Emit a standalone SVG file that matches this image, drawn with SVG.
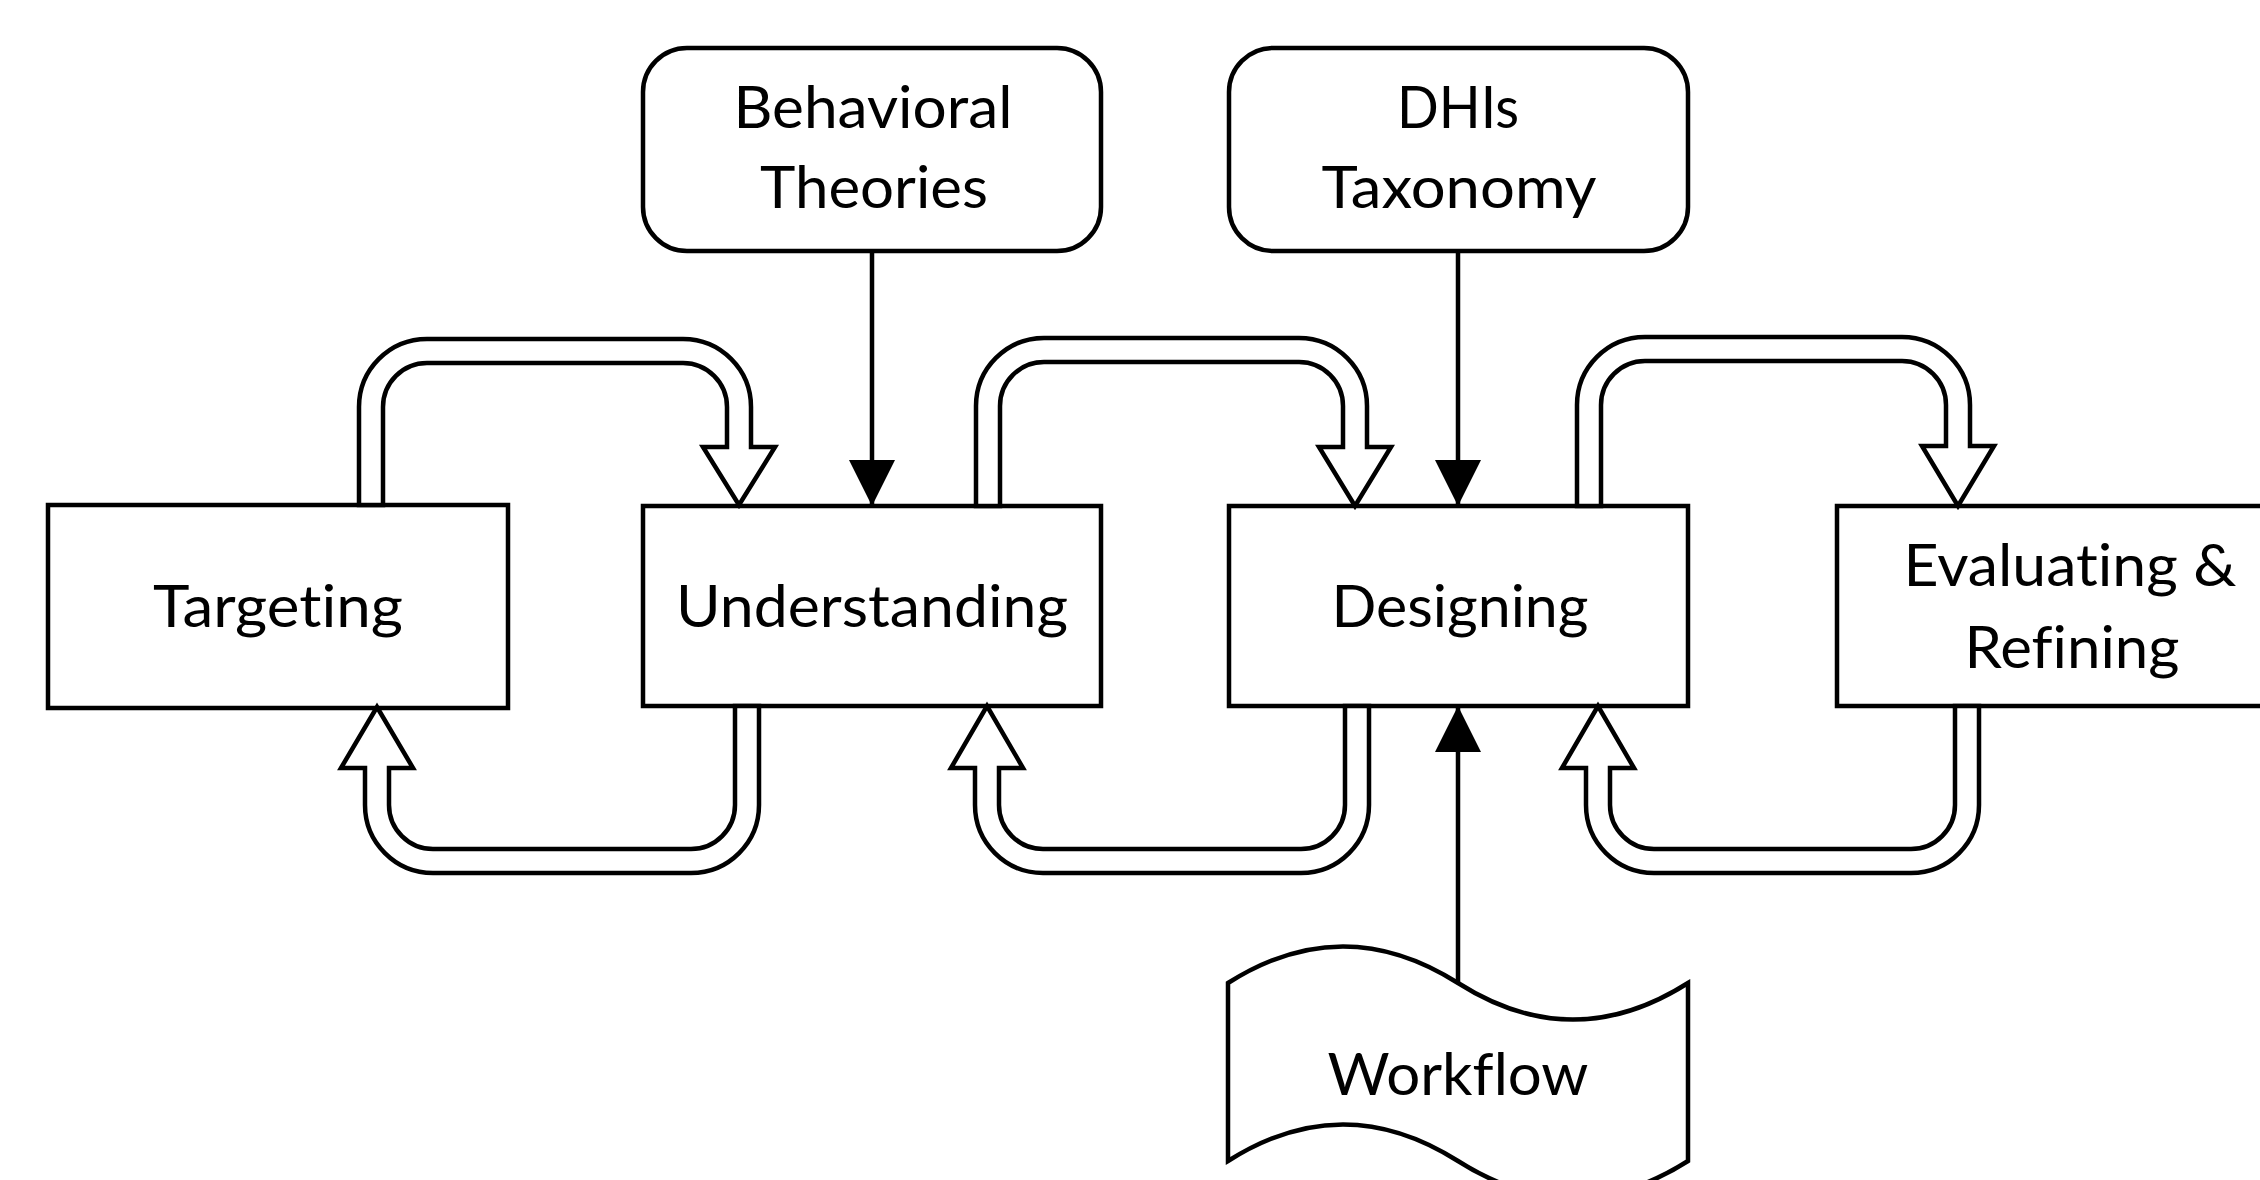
<svg xmlns="http://www.w3.org/2000/svg" width="2260" height="1180" viewBox="0 0 2260 1180">
<style>
.box{fill:#fff;stroke:#000;stroke-width:4.5;}
.blk{fill:#fff;stroke:#000;stroke-width:4.5;stroke-linejoin:miter;}
.ln{fill:none;stroke:#000;stroke-width:4.5;}
text{font-family:Lato,"Open Sans",sans-serif;font-size:59px;fill:#000;text-anchor:middle;font-variant-ligatures:none;font-feature-settings:"liga" 0,"clig" 0;}
</style>
<defs>
<marker id="ah" markerUnits="userSpaceOnUse" markerWidth="46" markerHeight="46" viewBox="0 0 44 44" refX="44" refY="22" orient="auto">
<path d="M0,0 L44,22 L0,44 Z" fill="#000"/>
</marker>
</defs>
<rect width="2260" height="1180" fill="#fff"/>
<g id="targeting">
<rect class="box" x="48" y="505" width="460" height="203"/>
<text x="278" y="627" textLength="250" lengthAdjust="spacingAndGlyphs">Targeting</text>
</g>
<g id="understanding">
<rect class="box" x="643" y="506" width="458" height="200"/>
<text x="872" y="627" textLength="392" lengthAdjust="spacingAndGlyphs">Understanding</text>
</g>
<g id="designing">
<rect class="box" x="1229" y="506" width="459" height="200"/>
<text x="1460" y="627" textLength="257" lengthAdjust="spacingAndGlyphs">Designing</text>
</g>
<g id="evaluating">
<rect class="box" x="1837" y="506" width="460" height="200"/>
<text x="2070" y="586" textLength="333" lengthAdjust="spacingAndGlyphs">Evaluating &amp;</text>
<text x="2072" y="668" textLength="215" lengthAdjust="spacingAndGlyphs">Refining</text>
</g>
<g id="behavioral">
<rect class="box" x="643" y="48" width="458" height="203" rx="44" ry="44"/>
<text x="873" y="128" textLength="279" lengthAdjust="spacingAndGlyphs">Behavioral</text>
<text x="874" y="208" textLength="228" lengthAdjust="spacingAndGlyphs">Theories</text>
</g>
<g id="dhis">
<rect class="box" x="1229" y="48" width="459" height="203" rx="44" ry="44"/>
<text x="1458" y="128" textLength="122" lengthAdjust="spacingAndGlyphs">DHIs</text>
<text x="1459" y="208" textLength="275" lengthAdjust="spacingAndGlyphs">Taxonomy</text>
</g>
<g id="workflow">
<path class="box" d="M1228,983 C1305,934 1381,934 1458,983 C1535,1032 1611,1032 1688,983 V1161 C1611,1210 1535,1210 1458,1161 C1381,1112 1305,1112 1228,1161 Z"/>
<text x="1458" y="1095" textLength="261" lengthAdjust="spacingAndGlyphs">Workflow</text>
</g>
<g id="connectors">
<path class="blk" d="M359,505 V407 A68,68 0 0 1 427,339 H683 A68,68 0 0 1 751,407 V447 H775 L739,505 L703,447 H727 V407 A44,44 0 0 0 683,363 H427 A44,44 0 0 0 383,407 V505 Z"/>
<path class="blk" d="M976,506 V406 A68,68 0 0 1 1044,338 H1299 A68,68 0 0 1 1367,406 V447 H1391 L1355,506 L1319,447 H1343 V406 A44,44 0 0 0 1299,362 H1044 A44,44 0 0 0 1000,406 V506 Z"/>
<path class="blk" d="M1577,506 V405 A68,68 0 0 1 1645,337 H1902 A68,68 0 0 1 1970,405 V446 H1994 L1958,506 L1922,446 H1946 V405 A44,44 0 0 0 1902,361 H1645 A44,44 0 0 0 1601,405 V506 Z"/>
<path class="blk" d="M735,706 V805 A44,44 0 0 1 691,849 H433 A44,44 0 0 1 389,805 V768 H413 L377,707 L341,768 H365 V805 A68,68 0 0 0 433,873 H691 A68,68 0 0 0 759,805 V706 Z"/>
<path class="blk" d="M1345,706 V805 A44,44 0 0 1 1301,849 H1043 A44,44 0 0 1 999,805 V768 H1023 L987,706 L951,768 H975 V805 A68,68 0 0 0 1043,873 H1301 A68,68 0 0 0 1369,805 V706 Z"/>
<path class="blk" d="M1955,706 V805 A44,44 0 0 1 1911,849 H1654 A44,44 0 0 1 1610,805 V768 H1634 L1598,706 L1562,768 H1586 V805 A68,68 0 0 0 1654,873 H1911 A68,68 0 0 0 1979,805 V706 Z"/>
<line class="ln" x1="872" y1="251" x2="872" y2="506" marker-end="url(#ah)"/>
<line class="ln" x1="1458" y1="251" x2="1458" y2="506" marker-end="url(#ah)"/>
<line class="ln" x1="1458" y1="983" x2="1458" y2="706" marker-end="url(#ah)"/>
</g>
</svg>
